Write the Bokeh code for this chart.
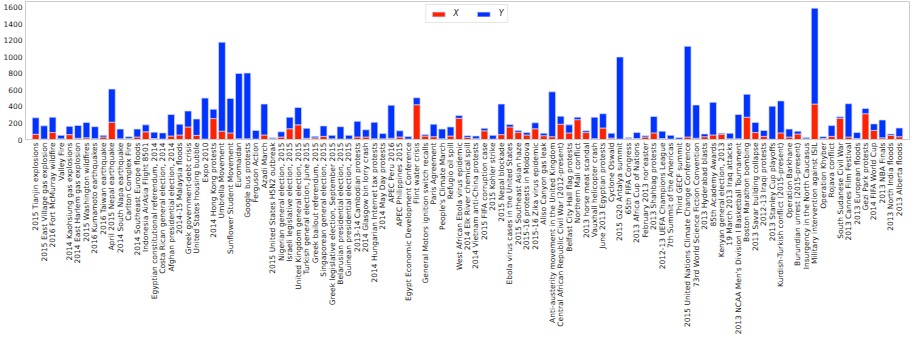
import math
from bokeh.plotting import figure
from bokeh.models import ColumnDataSource, FactorRange, FixedTicker
from bokeh.embed import file_html
from bokeh.resources import INLINE

categories = [
    "2015 Tianjin explosions", "2015 East Village gas explosion", "2016 Fort McMurray wildfire",
    "Valley Fire", "2014 Kaohsiung gas explosions", "2014 East Harlem gas explosion",
    "2015 Washington wildfires", "2016 Kumamoto earthquakes", "2016 Taiwan earthquake",
    "April 2015 Nepal earthquake", "2014 South Napa earthquake", "Carlton Complex Fire",
    "2014 Southeast Europe floods", "Indonesia AirAsia Flight 8501",
    "Egyptian constitutional referendum, 2014", "Costa Rican general election, 2014",
    "Afghan presidential election, 2014", "2014-15 Malaysia floods", "Greek government-debt crisis",
    "United States housing bubble", "Expo 2010", "2014 Hong Kong protests", "Umbrella Movement",
    "Sunflower Student Movement", "Euromaidan", "Google bus protests", "Ferguson Action",
    "Azadi March", "2015 United States H5N2 outbreak", "Nigerian general election, 2015",
    "Israeli legislative election, 2015", "United Kingdom general election, 2015",
    "Turkish general election, June 2015", "Greek bailout referendum, 2015",
    "Singaporean general election, 2015", "Greek legislative election, September 2015",
    "Belarusian presidential election, 2015", "Guinean presidential election, 2015",
    "2013-14 Cambodian protests", "2014 Glasgow bin lorry crash",
    "2014 Hungarian Internet tax protests", "2014 May Day protests", "APEC Peru 2016",
    "APEC Philippines 2015", "Egypt Economic Development Conference", "Flint water crisis",
    "General Motors ignition switch recalls", "Paris Agreement", "People's Climate March",
    "Refugio oil spill", "West African Ebola virus epidemic", "2014 Elk River chemical spill",
    "2014 Vietnam anti-China protests", "2015 FIFA corruption case", "2015 Kohler strike",
    "2015 Nepal blockade", "Ebola virus cases in the United States", "2015 Southeast Asian haze",
    "2015-16 protests in Moldova", "2015-16 Zika virus epidemic", "Aliso Canyon gas leak",
    "Anti-austerity movement in the United Kingdom",
    "Central African Republic Civil War (2012-present)", "Belfast City Hall flag protests",
    "Northern Mali conflict", "2013 horse meat scandal", "Vauxhall helicopter crash",
    "June 2013 Egyptian protests", "Cyclone Oswald", "2015 G20 Antalya summit",
    "65th FIFA Congress", "2013 Africa Cup of Nations", "February 2013 nor'easter",
    "2013 Shahbag protests", "2012-13 UEFA Champions League", "7th Summit of the Americas",
    "Third GECF summit", "2015 United Nations Climate Change Conference",
    "73rd World Science Fiction Convention", "2013 Hyderabad blasts", "85th Academy Awards",
    "Kenyan general election, 2013", "19 March 2013 Iraq attacks",
    "2013 NCAA Men's Division I Basketball Tournament", "Boston Marathon bombing",
    "2013 Savar building collapse", "2012-13 Iraqi protests", "2013 Stanley Cup playoffs",
    "Kurdish-Turkish conflict (2015-present)", "Operation Barkhane",
    "Burundian unrest (2015-present)", "Insurgency in the North Caucasus",
    "Military intervention against ISIL", "Operation Khyber", "Rojava conflict",
    "South Sudanese Civil War", "2013 Cannes Film Festival", "2013 European floods",
    "Gezi Park protests", "2014 FIFA World Cup", "2013 NBA Finals", "2013 North India floods",
    "2013 Alberta floods",
]

x_values = [
    63, 5, 85, 8, 59, 15, 20, 10, 30, 210,
    8, 12, 30, 93, 12, 5, 42, 55, 152, 50,
    5, 253, 101, 80, 8, 8, 5, 55, 10, 30,
    130, 177, 15, 20, 38, 8, 5, 5, 30, 30,
    8, 8, 15, 30, 5, 421, 42, 34, 8, 42,
    257, 25, 10, 105, 5, 59, 152, 88, 55, 130,
    46, 34, 185, 80, 240, 84, 10, 139, 17, 5,
    12, 12, 30, 80, 12, 5, 5, 30, 15, 34,
    55, 63, 8, 8, 270, 84, 38, 3, 80, 30,
    67, 8, 429, 12, 38, 257, 30, 12, 312, 110,
    20, 50, 34,
]

y_values = [
    200, 160, 185, 42, 100, 155, 185, 145, 20, 400,
    118, 22, 96, 84, 76, 75, 260, 130, 193, 198,
    496, 113, 1077, 417, 792, 796, 105, 374, 11, 63,
    140, 210, 120, 18, 126, 42, 150, 45, 190, 88,
    200, 64, 400, 75, 30, 84, 17, 151, 118, 110,
    33, 21, 32, 30, 45, 370, 29, 22, 29, 72,
    30, 543, 97, 97, 30, 21, 260, 173, 59, 993,
    13, 72, 16, 198, 89, 45, 20, 1098, 402, 33,
    395, 13, 68, 295, 277, 122, 72, 400, 387, 96,
    34, 17, 1160, 22, 130, 17, 403, 72, 63, 79,
    216, 17, 105,
]

series = ["X", "Y"]
colors = ["#ff2200", "#0033ff"]
y_ticks = [0, 200, 400, 600, 800, 1000, 1200, 1400, 1600]

src = ColumnDataSource(dict(cat=categories, X=x_values, Y=y_values))

p = figure(
    x_range=FactorRange(*categories, range_padding=0.7, range_padding_units="absolute"),
    y_range=(0, 1670),
    width=911, height=337,
    output_backend="svg", toolbar_location=None,
    min_border_left=20, min_border_right=2, min_border_top=1, min_border_bottom=0,
)

p.vbar_stack(series, x="cat", width=0.8, color=colors, source=src,
             line_color="#d8d8f0", line_width=0.7, legend_label=series)

p.xgrid.visible = False
p.ygrid.visible = False
p.outline_line_color = "#cccccc"

for ax in (p.xaxis, p.yaxis):
    ax.axis_line_color = "#cccccc"
    ax.major_tick_line_color = None
    ax.minor_tick_line_color = None
    ax.major_tick_out = 0
    ax.major_tick_in = 0
    ax.major_label_text_font = "DejaVu Sans"
    ax.major_label_text_color = "#262626"
    ax.major_label_standoff = 3

p.xaxis.major_label_orientation = math.pi / 2
p.xaxis.major_label_text_font_size = "7.5px"
p.yaxis.major_label_text_font_size = "7.5px"
p.yaxis.ticker = FixedTicker(ticks=y_ticks)

lg = p.legend[0]
lg.location = "top_center"
lg.orientation = "horizontal"
lg.label_text_font = "DejaVu Sans"
lg.label_text_font_style = "italic"
lg.label_text_font_size = "8px"
lg.label_text_color = "#262626"
lg.label_width = 5
lg.label_height = 6
lg.glyph_width = 16
lg.glyph_height = 6
lg.label_standoff = 7
lg.spacing = 17
lg.padding = 4
lg.margin = 3
lg.border_line_color = "#cccccc"
lg.background_fill_alpha = 1.0

open("out.html", "w").write(file_html(p, INLINE))
